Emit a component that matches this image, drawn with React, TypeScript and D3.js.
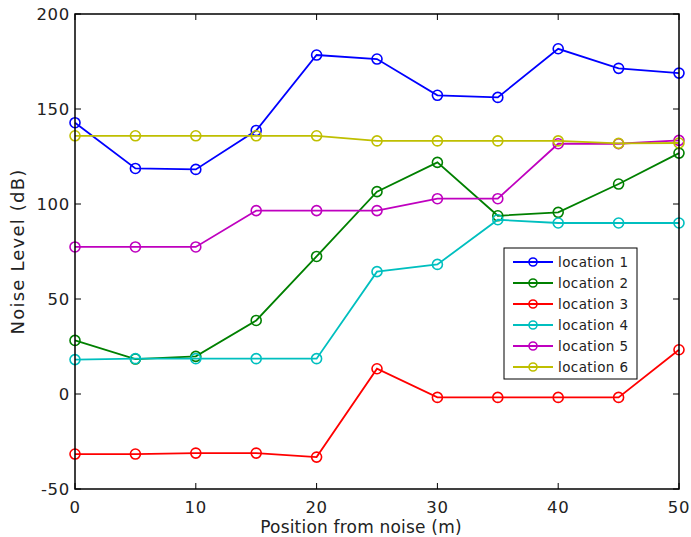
import React from "react";
import * as d3 from "d3";

const positions = [0, 5, 10, 15, 20, 25, 30, 35, 40, 45, 50];
const location1 = [142.8, 118.7, 118.2, 138.7, 178.4, 176.3, 157.2, 156.1, 181.7, 171.4, 168.9];
const location2 = [28.2, 18.4, 19.8, 38.7, 72.4, 106.5, 121.9, 93.8, 95.6, 110.5, 126.8];
const location3 = [-31.6, -31.6, -31.1, -31.1, -33.2, 13.3, -1.8, -1.8, -1.8, -1.8, 23.3];
const location4 = [18.1, 18.6, 18.6, 18.6, 18.6, 64.4, 68.2, 91.7, 90.0, 90.0, 90.0];
const location5 = [77.4, 77.4, 77.4, 96.5, 96.5, 96.5, 102.8, 102.8, 131.7, 131.7, 133.5];
const location6 = [135.9, 135.9, 135.9, 135.9, 135.9, 133.2, 133.2, 133.2, 133.2, 131.9, 132.1];

const seriesNames = ["location 1", "location 2", "location 3", "location 4", "location 5", "location 6"];
const seriesValues = [location1, location2, location3, location4, location5, location6];
const seriesColors = ["#0000ff", "#008000", "#ff0000", "#00bfbf", "#bf00bf", "#bfbf00"];

const xTicks = [0, 10, 20, 30, 40, 50];
const yTicks = [-50, 0, 50, 100, 150, 200];

const xLabel = "Position from noise (m)";
const yLabel = "Noise Level (dB)";

export default function App() {
  const W = 691;
  const H = 537;
  const left = 75, right = 679, top = 14, bottom = 489;
  const x = d3.scaleLinear().domain([0, 50]).range([left, right]);
  const y = d3.scaleLinear().domain([-50, 200]).range([bottom, top]);
  const line = d3
    .line<[number, number]>()
    .x((d) => x(d[0]))
    .y((d) => y(d[1]));
  const tl = 6;
  const font = "DejaVu Sans, Verdana, sans-serif";
  const textColor = "#222";

  const legX = 504, legY = 248, legW = 133, legH = 131;
  const rowY = (i: number) => legY + 14 + i * 21;

  return (
    <svg
      width={W}
      height={H}
      style={{ position: "absolute", left: 0, top: 0, background: "#fff" }}
      fontFamily={font}
    >
      <rect x={0} y={0} width={W} height={H} fill="#fff" />
      {seriesValues.map((vals, si) => {
        const pts = positions.map((p, i) => [p, vals[i]] as [number, number]);
        return (
          <g key={si}>
            <path d={line(pts) || ""} fill="none" stroke={seriesColors[si]} strokeWidth={1.8} />
            {pts.map((d, i) => (
              <circle
                key={i}
                cx={x(d[0])}
                cy={y(d[1])}
                r={5}
                fill="none"
                stroke={seriesColors[si]}
                strokeWidth={1.6}
              />
            ))}
          </g>
        );
      })}
      <rect
        x={left}
        y={top}
        width={right - left}
        height={bottom - top}
        fill="none"
        stroke="#000"
        strokeWidth={1.5}
      />
      {xTicks.map((t) => (
        <g key={"x" + t}>
          <line x1={x(t)} x2={x(t)} y1={bottom} y2={bottom - tl} stroke="#000" strokeWidth={1} />
          <line x1={x(t)} x2={x(t)} y1={top} y2={top + tl} stroke="#000" strokeWidth={1} />
          <text
            x={x(t)}
            y={513}
            textAnchor="middle"
            fontSize={16.5}
            letterSpacing={0.7}
            fill={textColor}
          >
            {t}
          </text>
        </g>
      ))}
      {yTicks.map((t) => (
        <g key={"y" + t}>
          <line x1={left} x2={left + tl} y1={y(t)} y2={y(t)} stroke="#000" strokeWidth={1} />
          <line x1={right} x2={right - tl} y1={y(t)} y2={y(t)} stroke="#000" strokeWidth={1} />
          <text
            x={70}
            y={y(t) + 6}
            textAnchor="end"
            fontSize={16.5}
            letterSpacing={0.7}
            fill={textColor}
          >
            {t}
          </text>
        </g>
      ))}
      <text
        x={361}
        y={533}
        textAnchor="middle"
        fontSize={17}
        letterSpacing={0.2}
        fill={textColor}
      >
        {xLabel}
      </text>
      <text
        transform={`translate(23.5, 251.5) rotate(-90)`}
        textAnchor="middle"
        fontSize={18}
        letterSpacing={1.2}
        fill={textColor}
      >
        {yLabel}
      </text>
      <rect x={legX} y={legY} width={legW} height={legH} fill="#fff" stroke="#000" strokeWidth={1} />
      {seriesNames.map((name, i) => (
        <g key={name}>
          <line
            x1={513}
            x2={553}
            y1={rowY(i)}
            y2={rowY(i)}
            stroke={seriesColors[i]}
            strokeWidth={1.8}
          />
          <circle cx={533} cy={rowY(i)} r={4} fill="none" stroke={seriesColors[i]} strokeWidth={1.6} />
          <text x={558} y={rowY(i) + 5} fontSize={13.5} letterSpacing={0.4} fill={textColor}>
            {name}
          </text>
        </g>
      ))}
    </svg>
  );
}
